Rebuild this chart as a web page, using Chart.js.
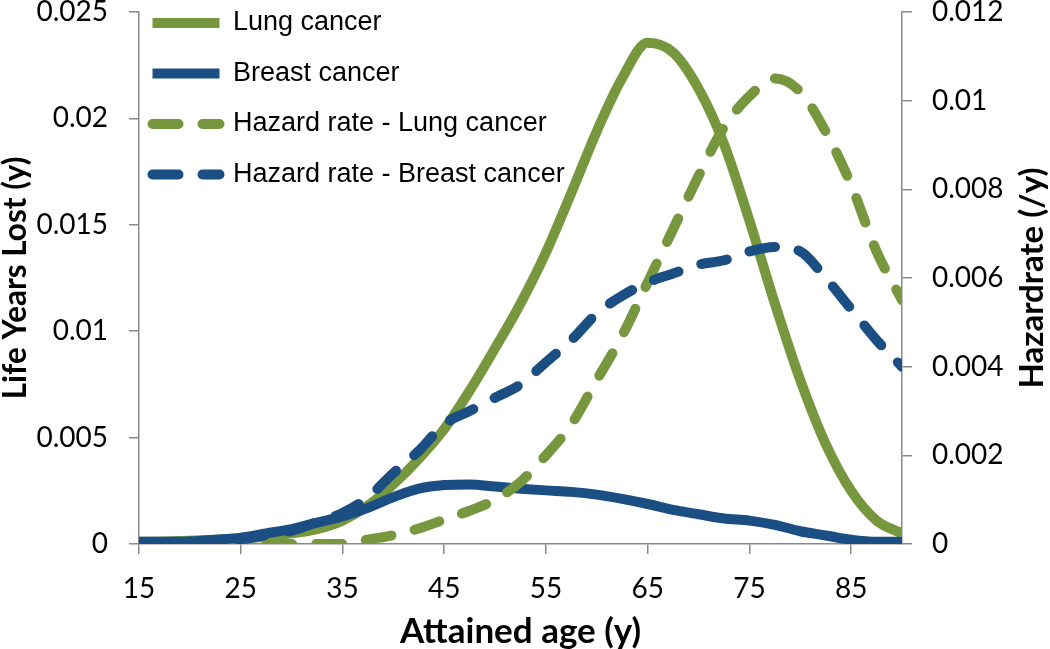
<!DOCTYPE html>
<html>
<head>
<meta charset="utf-8">
<script src="https://cdn.jsdelivr.net/npm/chart.js@4.4.1/dist/chart.umd.min.js"></script>
<style>
  html, body { margin: 0; padding: 0; background: #fff; }
  #chart { display: block; }
</style>
</head>
<body>
<canvas id="chart" width="1050" height="649"></canvas>
<script>
// attained age (x), shared by all series
const ages = [15, 17.5, 20, 22.5, 25, 27.5, 30, 32.5, 35, 37.5, 40, 42.5, 45, 47.5, 50, 52.5,
  55, 57.5, 60, 62.5, 65, 67.5, 70, 72.5, 75, 77.5, 80, 82.5, 85, 87.5, 90];

// life years lost (left axis)
const lungLYL = [0.0001, 0.00012, 0.00015, 0.0002, 0.00025, 0.00035, 0.0005, 0.0007, 0.0011, 0.0018,
  0.0028, 0.004, 0.0054, 0.0072, 0.0092, 0.0113, 0.0137, 0.0165, 0.0194, 0.0219, 0.02355, 0.0231,
  0.0214, 0.0188, 0.0152, 0.0113, 0.0077, 0.0047, 0.0025, 0.0011, 0.0005];
const breastLYL = [0.0001, 0.0001, 0.00012, 0.0002, 0.0003, 0.0005, 0.0007, 0.001, 0.0013, 0.0017,
  0.0022, 0.0026, 0.00277, 0.0028, 0.0027, 0.0026, 0.00252, 0.00245, 0.00232, 0.00212, 0.00188, 0.0016,
  0.0014, 0.0012, 0.0011, 0.0009, 0.0006, 0.0004, 0.0002, 0.0001, 0.0001];

// hazard rates (right axis)
const lungHazard = [null, null, null, null, null, 0, 0, 0, 0, 0.0001,
  0.0002, 0.00035, 0.00055, 0.00075, 0.001, 0.0014, 0.002, 0.0027, 0.0037, 0.0047, 0.0059, 0.0071,
  0.0083, 0.0094, 0.0101, 0.0105, 0.0102, 0.0093, 0.0081, 0.0066, 0.0055];
const breastHazard = [0, 0, 0.00002, 0.00005, 0.0001, 0.0002, 0.0003, 0.0005, 0.0007, 0.00105,
  0.0016, 0.0021, 0.0027, 0.003, 0.0033, 0.0036, 0.0041, 0.0046, 0.0052, 0.0056, 0.0059, 0.0061,
  0.0063, 0.0064, 0.0066, 0.0067, 0.0066, 0.006, 0.0053, 0.0046, 0.004];

const seriesNames = ['Lung cancer', 'Breast cancer', 'Hazard rate - Lung cancer', 'Hazard rate - Breast cancer'];

const xTicks = [15, 25, 35, 45, 55, 65, 75, 85];
const yLeftTicks = [0, 0.005, 0.01, 0.015, 0.02, 0.025];
const yLeftLabels = ['0', '0.005', '0.01', '0.015', '0.02', '0.025'];
const yRightTicks = [0, 0.002, 0.004, 0.006, 0.008, 0.01, 0.012];
const yRightLabels = ['0', '0.002', '0.004', '0.006', '0.008', '0.01', '0.012'];

const xTitle = 'Attained age (y)';
const yLeftTitle = 'Life Years Lost (y)';
const yRightTitle = 'Hazardrate (/y)';

const green = '#77973f';
const blue = '#1b4f83';
const axisGrey = '#8a8a8a';
const dash = [26, 24];

const pts = vals => ages.map((a, i) => ({ x: a, y: vals[i] }));

function line(label, vals, color, axis, dashed, order) {
  return {
    label, data: pts(vals), yAxisID: axis, order,
    borderColor: color, backgroundColor: color, borderWidth: 10,
    borderDash: dashed ? dash : [], borderCapStyle: dashed ? 'round' : 'butt',
    borderJoinStyle: 'round', pointRadius: 0, pointHoverRadius: 0,
    cubicInterpolationMode: 'monotone', fill: false
  };
}

const tickFont = { family: 'Lato', size: 28 };
const gridOpts = { drawOnChartArea: false, drawTicks: true, tickLength: 10, color: axisGrey, lineWidth: 1.5 };
const borderOpts = { color: axisGrey, width: 1.5 };

// right-hand title reads bottom-to-top like the original
const rightTitlePlugin = {
  id: 'rightTitle',
  afterDraw(chart) {
    const { ctx, chartArea } = chart;
    const s = chart.scales.y2;
    ctx.save();
    ctx.font = 'bold 33px Lato';
    ctx.fillStyle = '#000';
    ctx.textAlign = 'center';
    ctx.textBaseline = 'middle';
    ctx.translate(s.right - 18, (chartArea.top + chartArea.bottom) / 2);
    ctx.rotate(-Math.PI / 2);
    ctx.fillText(yRightTitle, 0, 0);
    ctx.restore();
  }
};

// legend sits inside the plot, top-left
const legendPosPlugin = {
  id: 'legendPos',
  afterLayout(chart) {
    const lg = chart.legend, ca = chart.chartArea;
    lg.left = ca.left - 10;
    lg.right = ca.right;
    lg.top = ca.top - 26;
    lg.bottom = ca.bottom;
  }
};

new Chart(document.getElementById('chart'), {
  type: 'line',
  data: {
    datasets: [
      line(seriesNames[0], lungLYL, green, 'y', false, 4),
      line(seriesNames[1], breastLYL, blue, 'y', false, 3),
      line(seriesNames[2], lungHazard, green, 'y2', true, 2),
      line(seriesNames[3], breastHazard, blue, 'y2', true, 1)
    ]
  },
  options: {
    responsive: false,
    devicePixelRatio: 1,
    animation: false,
    layout: { padding: { top: 12, left: 0, right: 0, bottom: 0 } },
    plugins: {
      tooltip: { enabled: false },
      legend: {
        position: 'chartArea',
        align: 'start',
        labels: {
          usePointStyle: true,
          pointStyleWidth: 67,
          padding: 23.5,
          color: '#000',
          font: { family: 'Liberation Sans', size: 27 },
          generateLabels: chart => chart.data.datasets.map((ds, i) => ({
            text: ds.label, datasetIndex: i, hidden: false,
            fillStyle: ds.borderColor, strokeStyle: ds.borderColor, fontColor: '#000',
            lineWidth: 10, lineDash: ds.borderDash, lineCap: ds.borderDash.length ? 'round' : 'butt',
            pointStyle: 'line', rotation: 0
          }))
        }
      }
    },
    scales: {
      x: {
        type: 'linear', min: 15, max: 90,
        afterBuildTicks: s => { s.ticks = xTicks.map(v => ({ value: v })); },
        afterFit: s => { s.height = 105; s.paddingLeft = 0; s.paddingRight = 0; },
        ticks: { font: tickFont, color: '#000', padding: 18, maxRotation: 0 },
        grid: gridOpts, border: borderOpts,
        title: { display: true, text: xTitle, color: '#000', padding: 0,
          font: { family: 'Lato', size: 35, weight: 'bold', lineHeight: 1 } }
      },
      y: {
        type: 'linear', position: 'left', min: 0, max: 0.025,
        afterBuildTicks: s => { s.ticks = yLeftTicks.map(v => ({ value: v })); },
        afterFit: s => { s.width = 139; s.paddingTop = 0; s.paddingBottom = 0; },
        ticks: { font: tickFont, color: '#000', padding: 21, callback: (v, i) => yLeftLabels[i] },
        grid: gridOpts, border: borderOpts,
        title: { display: true, text: yLeftTitle, color: '#000', padding: 0,
          font: { family: 'Lato', size: 31.5, weight: 'bold', lineHeight: 1 } }
      },
      y2: {
        type: 'linear', position: 'right', min: 0, max: 0.012,
        afterBuildTicks: s => { s.ticks = yRightTicks.map(v => ({ value: v })); },
        afterFit: s => { s.width = 148; s.paddingTop = 0; s.paddingBottom = 0; },
        ticks: { font: tickFont, color: '#000', padding: 20, callback: (v, i) => yRightLabels[i] },
        grid: gridOpts, border: borderOpts
      }
    }
  },
  plugins: [rightTitlePlugin, legendPosPlugin]
});
</script>
</body>
</html>
